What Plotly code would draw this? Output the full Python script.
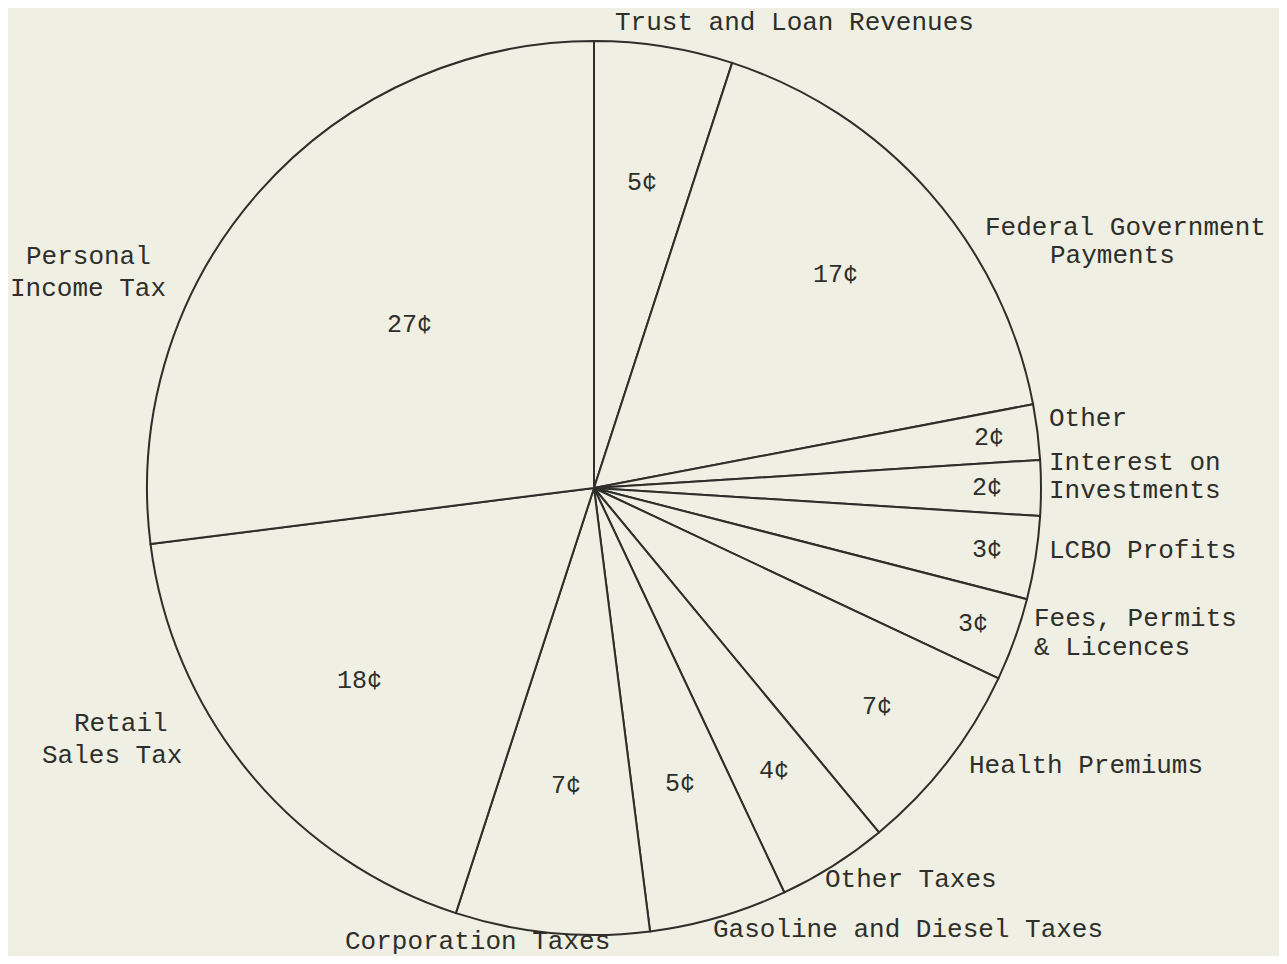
import math
import plotly.graph_objects as go

# ---- data (clockwise from 12 o'clock) ----
categories = ["Trust and Loan Revenues", "Federal Government Payments", "Other",
              "Interest on Investments", "LCBO Profits", "Fees, Permits & Licences",
              "Health Premiums", "Other Taxes", "Gasoline and Diesel Taxes",
              "Corporation Taxes", "Retail Sales Tax", "Personal Income Tax"]
cents = [5, 17, 2, 2, 3, 3, 7, 4, 5, 7, 18, 27]
value_labels = [f"{v}¢" for v in cents]

# ---- layout / style ----
OFF = 8                      # page body margin in the browser
W, H = 1287 - 2 * OFF, 964 - 2 * OFF
CX, CY, R = 594 - OFF, 488 - OFF, 447
BG = "#EFEFE3"
INK = "#2E2E2A"
FONT = "Liberation Mono, Courier New, monospace"
# radial placement (fraction of radius) of the value text in each slice
value_radius = [0.69, 0.72, 0.89, 0.88, 0.89, 0.90, 0.80, 0.75, 0.69, 0.67, 0.68, 0.55]
# category name lines: (text, left x px, y px) in page pixels
name_lines = [
    ("Trust and Loan Revenues", 613, 23),
    ("Federal Government", 983, 228),
    ("Payments", 1048, 256),
    ("Other", 1047, 419),
    ("Interest on", 1047, 463),
    ("Investments", 1047, 491),
    ("LCBO Profits", 1047, 551),
    ("Fees, Permits", 1032, 619),
    ("& Licences", 1032, 648),
    ("Health Premiums", 967, 766),
    ("Other Taxes", 823, 880),
    ("Gasoline and Diesel Taxes", 711, 930),
    ("Corporation Taxes", 343, 942),
    ("Retail", 72, 724),
    ("Sales Tax", 40, 756),
    ("Personal", 24, 257),
    ("Income Tax", 8, 289),
]

fig = go.Figure(go.Pie(
    labels=categories,
    values=cents,
    sort=False,
    direction="clockwise",
    rotation=0,
    textinfo="none",
    hoverinfo="skip",
    marker=dict(colors=[BG] * len(cents), line=dict(color=INK, width=2)),
    domain=dict(x=[(CX - R) / W, (CX + R) / W],
                y=[(H - CY - R) / H, (H - CY + R) / H]),
    showlegend=False,
))

annotations = []
total = sum(cents)
cum = 0
for v, lab, rf in zip(cents, value_labels, value_radius):
    mid = (cum + v / 2) / total * 2 * math.pi
    cum += v
    px = CX + rf * R * math.sin(mid)
    py = CY - rf * R * math.cos(mid)
    annotations.append(dict(x=px / W, y=1 - py / H, xref="paper", yref="paper",
                            text=lab, showarrow=False, xanchor="center", yanchor="middle",
                            font=dict(family=FONT, size=25, color=INK)))
for txt, px, py in name_lines:
    annotations.append(dict(x=(px - OFF) / W, y=1 - (py - OFF) / H, xref="paper", yref="paper",
                            text=txt, showarrow=False, xanchor="left", yanchor="middle",
                            font=dict(family=FONT, size=26, color=INK)))

fig.update_layout(
    width=W, height=H,
    margin=dict(l=0, r=0, t=0, b=0),
    paper_bgcolor=BG, plot_bgcolor=BG,
    annotations=annotations,
)
fig.write_html("out.html")
